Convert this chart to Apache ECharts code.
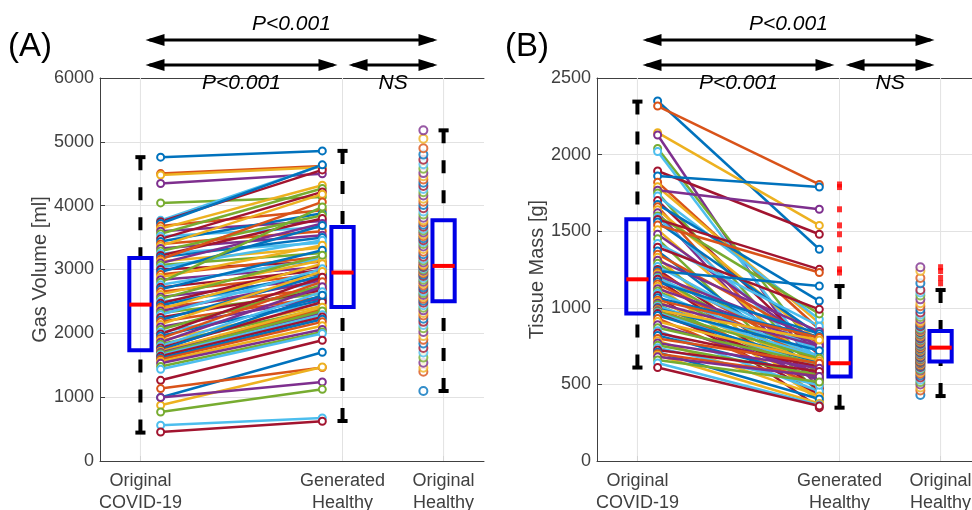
<!DOCTYPE html>
<html>
<head>
<meta charset="utf-8">
<script src="https://cdn.jsdelivr.net/npm/echarts@6/dist/echarts.min.js"></script>
<style>
  html, body { margin: 0; padding: 0; background: #ffffff; }
  #main { width: 972px; height: 510px; }
</style>
</head>
<body>
<div id="main"></div>
<script>
// MATLAB default line colour order
const palette = ['#0072BD', '#D95319', '#EDB120', '#7E2F8E', '#77AC30', '#4DBEEE', '#A2142F'];

// Group positions on the x axis and their labels
const groupPositions = [1, 3, 4];
const groupLabels = ['Original\nCOVID-19', 'Generated\nHealthy', 'Original\nHealthy'];

// Panel A: gas volume [ml], paired COVID-19 -> generated healthy
const gasCovid = [4760, 4503, 4480, 4347, 4043, 3770, 3750, 3720, 3680, 3640, 3600, 3560, 3520, 3480,
  3440, 3400, 3370, 3330, 3290, 3250, 3220, 3190, 3160, 3130, 3100, 3070, 3030, 3000, 2960, 2920,
  2880, 2840, 2800, 2760, 2720, 2690, 2650, 2610, 2570, 2540, 2500, 2470, 2440, 2410, 2380, 2350,
  2320, 2290, 2250, 2210, 2180, 2140, 2100, 2060, 2020, 1990, 1960, 1920, 1890, 1860, 1830, 1800,
  1770, 1740, 1725, 1715, 1700, 1680, 1660, 1640, 1610, 1590, 1560, 1530, 1480, 1436, 1264, 996,
  1134, 873, 993, 768, 560, 455];
const gasGenerated = [4858, 4620, 4600, 4500, 4137, 4633, 4560, 4640, 3928, 4320, 3760, 4268, 3660, 4216,
  3880, 3600, 4180, 3537, 3850, 3420, 3798, 3500, 4059, 3340, 3720, 3260, 3458, 3120, 3690, 3200,
  3380, 3040, 3980, 3170, 2988, 3302, 2930, 3145, 2860, 3223, 2780, 3066, 2950, 2700, 3090, 2832,
  2623, 3010, 2675, 2910, 2570, 2970, 2545, 2753, 2466, 2880, 2520, 2810, 2430, 2730, 2390, 2650,
  2490, 2597, 2370, 2410, 2320, 2350, 2290, 2257, 2220, 2180, 2120, 2060, 2022, 1996, 1891, 1703,
  1465, 1473, 1238, 1123, 674, 622];
const gasHealthy = [1097, 1400, 1460, 1540, 1620, 1700, 1770, 1840, 1900, 1960, 2020, 2080, 2130, 2180,
  2230, 2280, 2320, 2360, 2400, 2440, 2480, 2510, 2540, 2570, 2600, 2630, 2660, 2690, 2720, 2750,
  2780, 2810, 2840, 2870, 2900, 2920, 2940, 2960, 2980, 3000, 3020, 3040, 3050, 3060, 3080, 3110,
  3140, 3170, 3200, 3240, 3280, 3320, 3360, 3400, 3430, 3460, 3490, 3520, 3550, 3580, 3610, 3640,
  3670, 3700, 3740, 3770, 3810, 3860, 3910, 3960, 4010, 4060, 4110, 4160, 4210, 4260, 4310, 4360,
  4410, 4460, 4510, 4580, 4650, 4720, 4800, 4900, 5050, 5180];
// Box statistics [lower whisker, Q1, median, Q3, upper whisker]
const gasBoxCovid = [445, 1735, 2450, 3180, 4760];
const gasBoxGenerated = [627, 2413, 2952, 3667, 4858];
const gasBoxHealthy = [1097, 2503, 3056, 3772, 5180];

// Panel B: tissue mass [g], paired COVID-19 -> generated healthy
const massCovid = [2350, 2317, 2143, 2128, 2040, 2020, 1893, 1860, 1820, 1790, 1767, 1750, 1730, 1700,
  1675, 1660, 1640, 1620, 1600, 1590, 1577, 1560, 1540, 1510, 1480, 1450, 1420, 1395, 1370, 1350,
  1330, 1310, 1290, 1270, 1250, 1240, 1230, 1220, 1210, 1200, 1195, 1186, 1170, 1155, 1140, 1125,
  1110, 1095, 1080, 1065, 1050, 1040, 1030, 1020, 1010, 1000, 995, 990, 985, 980, 975, 968,
  962, 950, 930, 910, 890, 870, 850, 835, 820, 800, 785, 770, 755, 740, 725, 710, 700, 690,
  680, 660, 640, 610];
const massGenerated = [1382, 1805, 1538, 558, 700, 630, 1480, 1788, 860, 900, 1643, 555, 925, 690,
  1044, 505, 780, 475, 960, 650, 1251, 820, 1230, 600, 740, 445, 880, 990, 570, 770,
  385, 845, 620, 710, 535, 1142, 662, 415, 800, 590, 730, 465, 830, 645, 395, 760,
  580, 685, 348, 812, 806, 625, 750, 553, 678, 435, 720, 595, 790, 525, 670, 610,
  566, 642, 485, 655, 575, 634, 455, 615, 545, 638, 425, 605, 562, 495, 585, 405, 552, 375,
  551, 515, 365, 359];
const massHealthy = [431, 460, 480, 500, 515, 530, 545, 558, 570, 580, 590, 598, 606, 613,
  620, 626, 632, 637, 641, 644, 647, 649, 653, 658, 662, 667, 672, 676, 681, 686,
  690, 695, 700, 704, 709, 713, 718, 722, 726, 730, 733, 736, 738, 740, 745, 750,
  755, 760, 765, 770, 775, 780, 785, 790, 795, 800, 806, 812, 818, 824, 830, 835,
  840, 844, 847, 849, 856, 864, 872, 880, 890, 900, 912, 925, 940, 955, 970, 990,
  1010, 1030, 1055, 1080, 1100, 1116, 1160, 1195, 1240, 1265];
const massBoxCovid = [610, 962, 1186, 1578, 2346];
const massBoxGenerated = [348, 551, 638, 805, 1142];
const massBoxHealthy = [424, 649, 740, 849, 1116];
const massOutliersGenerated = [1805, 1788, 1643, 1538, 1480, 1382, 1251, 1230];
const massOutliersHealthy = [1265, 1240, 1195, 1160];

// x offsets of the point columns next to each box
const xCovidPts = 1.2, xGenPts = 2.8, xHealthyPts = 3.8;

const FONT = 'Liberation Sans, Arial, Helvetica, sans-serif';
const AXIS_COLOR = '#404040';
const GRID_COLOR = '#e2e2e2';

const chart = echarts.init(document.getElementById('main'), null, { renderer: 'canvas' });

function bottomAxis(gridIndex) {
  return {
    type: 'value', gridIndex, min: 0.6, max: 4.4, position: 'bottom',
    axisLine: { show: true, onZero: false, lineStyle: { color: AXIS_COLOR, width: 1 } },
    axisTick: { show: true, inside: true, length: 5, customValues: groupPositions, lineStyle: { color: AXIS_COLOR } },
    axisLabel: {
      customValues: groupPositions,
      formatter: v => groupLabels[groupPositions.indexOf(v)] || '',
      color: AXIS_COLOR, fontFamily: FONT, fontSize: 18, lineHeight: 22, margin: 9
    },
    splitLine: { show: false }
  };
}
function topAxis(gridIndex) {
  return {
    type: 'value', gridIndex, min: 0.6, max: 4.4, position: 'top',
    axisLine: { show: true, onZero: false, lineStyle: { color: AXIS_COLOR, width: 1 } },
    axisTick: { show: false }, axisLabel: { show: false }, splitLine: { show: false }
  };
}
function leftAxis(gridIndex, max, interval, name) {
  return {
    type: 'value', gridIndex, min: 0, max, interval,
    name, nameLocation: 'middle', nameGap: 49,
    nameTextStyle: { color: AXIS_COLOR, fontFamily: FONT, fontSize: 20 },
    axisLine: { show: true, lineStyle: { color: AXIS_COLOR, width: 1 } },
    axisTick: { show: true, inside: true, length: 5, lineStyle: { color: AXIS_COLOR } },
    axisLabel: { color: AXIS_COLOR, fontFamily: FONT, fontSize: 18, margin: 6, formatter: v => String(v) },
    splitLine: { show: true, lineStyle: { color: GRID_COLOR, width: 1 } }
  };
}

// Vertical grid lines at the group positions, drawn beneath every mark
function groupGridLines(xAxisIndex, yAxisIndex) {
  return {
    type: 'custom', xAxisIndex, yAxisIndex, z: 1, silent: true,
    data: groupPositions.map(p => [p]),
    renderItem: (params, api) => {
      const cs = params.coordSys;
      const x = api.coord([api.value(0), 0])[0];
      return {
        type: 'line', shape: { x1: x, y1: cs.y, x2: x, y2: cs.y + cs.height },
        style: { stroke: GRID_COLOR, lineWidth: 1 }
      };
    }
  };
}

// Paired lines, one series per subject so colours cycle through the palette
function pairedSeries(xAxisIndex, yAxisIndex, before, after) {
  return before.map((v, i) => {
    const c = palette[i % palette.length];
    return {
      type: 'line', xAxisIndex, yAxisIndex, z: 3,
      data: [[xCovidPts, v], [xGenPts, after[i]]],
      symbol: 'emptyCircle', symbolSize: 7, showSymbol: true,
      lineStyle: { color: c, width: 2.5 },
      itemStyle: { color: c, borderColor: c, borderWidth: 1.5 },
      emphasis: { disabled: true }, silent: true
    };
  });
}

function healthyScatter(xAxisIndex, yAxisIndex, values) {
  return {
    type: 'scatter', xAxisIndex, yAxisIndex, z: 3, silent: true,
    symbol: 'emptyCircle', symbolSize: 8,
    data: values.map(v => [xHealthyPts, v]),
    itemStyle: {
      color: p => palette[p.dataIndex % palette.length],
      borderColor: p => palette[p.dataIndex % palette.length],
      borderWidth: 1.5
    }
  };
}

// MATLAB style box plot drawn from [whisker low, Q1, median, Q3, whisker high]
function boxSeries(xAxisIndex, yAxisIndex, boxes) {
  return {
    type: 'custom', xAxisIndex, yAxisIndex, z: 4, silent: true,
    data: boxes.map((b, i) => [groupPositions[i]].concat(b)),
    renderItem: (params, api) => {
      const x = api.value(0);
      const c = y => api.coord([x, y]);
      const halfBox = api.size([0.11, 0])[0];
      const halfCap = api.size([0.05, 0])[0];
      const [lo, q1, md, q3, hi] = [1, 2, 3, 4, 5].map(k => c(api.value(k)));
      const cx = lo[0];
      const dashed = { stroke: '#000', lineWidth: 4, lineDash: [13, 17] };
      const solid = { stroke: '#000', lineWidth: 4 };
      return {
        type: 'group',
        children: [
          { type: 'line', shape: { x1: cx, y1: hi[1], x2: cx, y2: q3[1] }, style: dashed },
          { type: 'line', shape: { x1: cx, y1: lo[1], x2: cx, y2: q1[1] }, style: dashed },
          { type: 'line', shape: { x1: cx - halfCap, y1: hi[1], x2: cx + halfCap, y2: hi[1] }, style: solid },
          { type: 'line', shape: { x1: cx - halfCap, y1: lo[1], x2: cx + halfCap, y2: lo[1] }, style: solid },
          { type: 'rect', shape: { x: cx - halfBox, y: q3[1], width: 2 * halfBox, height: q1[1] - q3[1] },
            style: { fill: 'none', stroke: '#0000e6', lineWidth: 4 } },
          { type: 'line', shape: { x1: cx - halfBox, y1: md[1], x2: cx + halfBox, y2: md[1] },
            style: { stroke: '#ff0000', lineWidth: 4 } }
        ]
      };
    }
  };
}

function outlierSeries(xAxisIndex, yAxisIndex, pos, values) {
  return {
    type: 'scatter', xAxisIndex, yAxisIndex, z: 5, silent: true,
    symbol: 'rect', symbolSize: [5, 6],
    data: values.map(v => [pos, v]),
    itemStyle: { color: '#ff0000' }
  };
}

// Fixed plot areas; labels may sit outside without the grid being shrunk
const grids = [
  { left: 100, top: 78, width: 384, height: 383, containLabel: false, outerBoundsMode: 'none' },
  { left: 597, top: 78, width: 384, height: 383, containLabel: false, outerBoundsMode: 'none' }
];

chart.setOption({
  animation: false,
  backgroundColor: '#ffffff',
  grid: grids,
  xAxis: [bottomAxis(0), topAxis(0), bottomAxis(1), topAxis(1)],
  yAxis: [
    leftAxis(0, 6000, 1000, 'Gas Volume [ml]'),
    leftAxis(1, 2500, 500, 'Tissue Mass [g]')
  ],
  series: [
    groupGridLines(0, 0),
    groupGridLines(2, 1),
    ...pairedSeries(0, 0, gasCovid, gasGenerated),
    healthyScatter(0, 0, gasHealthy),
    boxSeries(0, 0, [gasBoxCovid, gasBoxGenerated, gasBoxHealthy]),
    ...pairedSeries(2, 1, massCovid, massGenerated),
    healthyScatter(2, 1, massHealthy),
    boxSeries(2, 1, [massBoxCovid, massBoxGenerated, massBoxHealthy]),
    outlierSeries(2, 1, 3, massOutliersGenerated),
    outlierSeries(2, 1, 4, massOutliersHealthy)
  ]
});

// Significance brackets above each panel
function arrowElements(xa, xb, y) {
  const head = 19, half = 6;
  return [
    { type: 'line', shape: { x1: xa + 4, y1: y, x2: xb - 4, y2: y }, style: { stroke: '#000', lineWidth: 3 } },
    { type: 'polygon', shape: { points: [[xa, y], [xa + head, y - half], [xa + head, y + half]] }, style: { fill: '#000' } },
    { type: 'polygon', shape: { points: [[xb, y], [xb - head, y - half], [xb - head, y + half]] }, style: { fill: '#000' } }
  ];
}
function labelElement(text, x, y) {
  return {
    type: 'text', x, y, z: 10,
    style: { text, fill: '#000', font: 'italic 21px ' + FONT, align: 'center', verticalAlign: 'middle' }
  };
}
const bracketSpans = { full: [1.05, 3.94], left: [1.05, 2.95], right: [3.06, 3.94] };
const panelTags = ['(A)', '(B)'];
const graphics = [];
[[0, 0], [2, 1]].forEach(([xi, yi], k) => {
  const topY = grids[k].top;
  const px = v => chart.convertToPixel({ xAxisIndex: xi }, v);
  const row1 = topY - 38, row2 = topY - 13;
  const [f0, f1] = bracketSpans.full.map(px);
  const [l0, l1] = bracketSpans.left.map(px);
  const [r0, r1] = bracketSpans.right.map(px);
  graphics.push(...arrowElements(f0, f1, row1));
  graphics.push(...arrowElements(l0, l1, row2));
  graphics.push(...arrowElements(r0, r1, row2));
  graphics.push(labelElement('P<0.001', (f0 + f1) / 2, topY - 54));
  graphics.push(labelElement('P<0.001', (l0 + l1) / 2, topY + 5));
  graphics.push(labelElement('NS', (r0 + r1) / 2, topY + 5));
  graphics.push({
    type: 'text', x: grids[k].left - 70, y: topY - 31,
    style: { text: panelTags[k], fill: '#000', font: '33px ' + FONT, align: 'center', verticalAlign: 'middle' }
  });
});
chart.setOption({ graphic: graphics });
</script>
</body>
</html>
